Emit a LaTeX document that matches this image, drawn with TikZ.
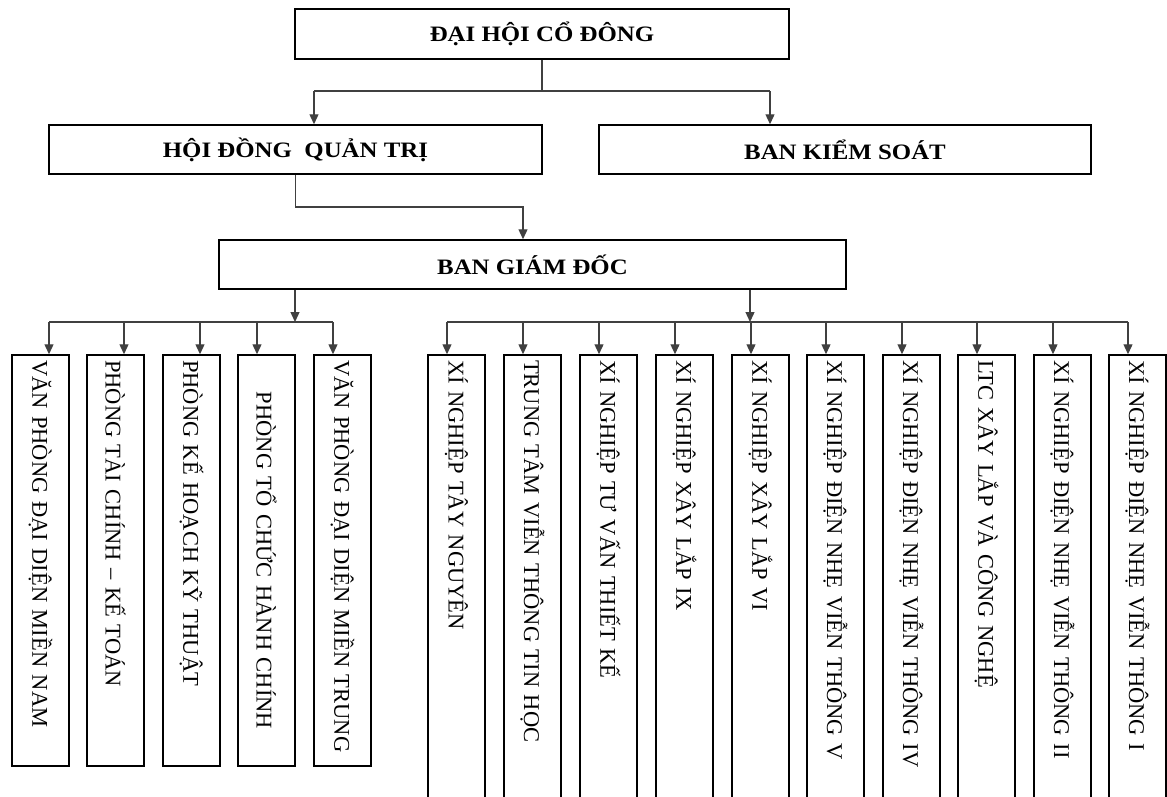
\documentclass[tikz,border=0pt]{standalone}
\usepackage{fontspec}
\setmainfont{Liberation Serif}
\newfontfamily\headfont[FakeStretch=1.13]{Liberation Serif}
\usetikzlibrary{arrows.meta,positioning}

\tikzset{
  topbox/.style={draw, line width=1.5pt, fill=white, inner sep=0pt,
    font=\headfont\bfseries\fontsize{22}{26}\selectfont},
  unitbox/.style={draw, line width=1.5pt, fill=white, rotate=-90,
    minimum height=57pt, inner xsep=5pt, inner ysep=0pt, align=left,
    font=\fontsize{22.5}{27}\selectfont},
  conn/.style={line width=1.3pt, black!75},
  arr/.style={conn, -{Triangle[length=10pt,width=9pt]}}
}

\begin{document}
\begin{tikzpicture}[x=1pt,y=-1pt]
\useasboundingbox (0,0) rectangle (1167,796);
\clip (0,0) rectangle (1167,796);
% upper levels
\node[topbox, minimum width=494pt, minimum height=50pt] (dhcd) at (542,34) {ĐẠI HỘI CỔ ĐÔNG};
\node[topbox, minimum width=493pt, minimum height=49pt] (hdqt) at (295.5,149.5) {HỘI ĐỒNG~~QUẢN TRỊ};
\node[topbox, minimum width=492pt, minimum height=49pt] (bks) at (845,149.5) {BAN KIỂM SOÁT};
\node[topbox, minimum width=627pt, minimum height=49pt] (bgd) at (532.5,264.5) {BAN GIÁM ĐỐC};
\coordinate (j0) at (314,91);
\coordinate (j1) at (770,91);
\draw[conn] (dhcd.south) -- (dhcd.south |- j0);
\draw[conn] (j0) -- (j1);
\draw[arr] (j0) -- (j0 |- hdqt.north);
\draw[arr] (j1) -- (j1 |- bks.north);
\coordinate (j2) at (523,207);
\draw[arr] (hdqt.south) |- (j2) -- (j2 |- bgd.north);
% phong ban
\node[unitbox, text width=401pt] (l1) at (40.5,560.5) {VĂN PHÒNG ĐẠI DIỆN MIỀN NAM};
\node[unitbox, text width=401pt] (l2) at (115.5,560.5) {PHÒNG TÀI CHÍNH – KẾ TOÁN};
\node[unitbox, text width=401pt] (l3) at (191.5,560.5) {PHÒNG KẾ HOẠCH KỸ THUẬT};
\node[unitbox, text width=401pt, align=center] (l4) at (266.5,560.5) {PHÒNG TỔ CHỨC HÀNH CHÍNH};
\node[unitbox, text width=401pt] (l5) at (342.5,560.5) {\mbox{VĂN PHÒNG ĐẠI DIỆN MIỀN TRUNG}};
\coordinate (lb) at (295,322);
\draw[arr] (lb |- bgd.south) -- (lb);
\coordinate (b1) at (49,322);
\coordinate (b2) at (124,322);
\coordinate (b3) at (200,322);
\coordinate (b4) at (257,322);
\coordinate (b5) at (333,322);
\draw[conn] (b1) -- (b5);
\draw[arr] (b1) -- (b1 |- l1.west);
\draw[arr] (b2) -- (b2 |- l2.west);
\draw[arr] (b3) -- (b3 |- l3.west);
\draw[arr] (b4) -- (b4 |- l4.west);
\draw[arr] (b5) -- (b5 |- l5.west);
% xi nghiep
\node[unitbox, text width=465pt] (r1) at (456.5,592.5) {XÍ NGHIỆP TÂY NGUYÊN};
\node[unitbox, text width=465pt] (r2) at (532.5,592.5) {TRUNG TÂM VIỄN THÔNG TIN HỌC};
\node[unitbox, text width=465pt] (r3) at (608.5,592.5) {XÍ NGHIỆP TƯ VẤN THIẾT KẾ};
\node[unitbox, text width=465pt] (r4) at (684.5,592.5) {XÍ NGHIỆP XÂY LẮP IX};
\node[unitbox, text width=465pt] (r5) at (760.5,592.5) {XÍ NGHIỆP XÂY LẮP VI};
\node[unitbox, text width=465pt] (r6) at (835.5,592.5) {XÍ NGHIỆP ĐIỆN NHẸ VIỄN THÔNG V};
\node[unitbox, text width=465pt] (r7) at (911.5,592.5) {XÍ NGHIỆP ĐIỆN NHẸ VIỄN THÔNG IV};
\node[unitbox, text width=465pt] (r8) at (986.5,592.5) {LTC XÂY LẮP VÀ CÔNG NGHỆ};
\node[unitbox, text width=465pt] (r9) at (1062.5,592.5) {XÍ NGHIỆP ĐIỆN NHẸ VIỄN THÔNG II};
\node[unitbox, text width=465pt] (r10) at (1137.5,592.5) {XÍ NGHIỆP ĐIỆN NHẸ VIỄN THÔNG I};
\coordinate (rb) at (750,322);
\draw[arr] (rb |- bgd.south) -- (rb);
\coordinate (c1) at (447,322);
\coordinate (c2) at (523,322);
\coordinate (c3) at (599,322);
\coordinate (c4) at (675,322);
\coordinate (c5) at (751,322);
\coordinate (c6) at (826,322);
\coordinate (c7) at (902,322);
\coordinate (c8) at (977,322);
\coordinate (c9) at (1053,322);
\coordinate (c10) at (1128,322);
\draw[conn] (c1) -- (c10);
\draw[arr] (c1) -- (c1 |- r1.west);
\draw[arr] (c2) -- (c2 |- r2.west);
\draw[arr] (c3) -- (c3 |- r3.west);
\draw[arr] (c4) -- (c4 |- r4.west);
\draw[arr] (c5) -- (c5 |- r5.west);
\draw[arr] (c6) -- (c6 |- r6.west);
\draw[arr] (c7) -- (c7 |- r7.west);
\draw[arr] (c8) -- (c8 |- r8.west);
\draw[arr] (c9) -- (c9 |- r9.west);
\draw[arr] (c10) -- (c10 |- r10.west);
\end{tikzpicture}
\end{document}
